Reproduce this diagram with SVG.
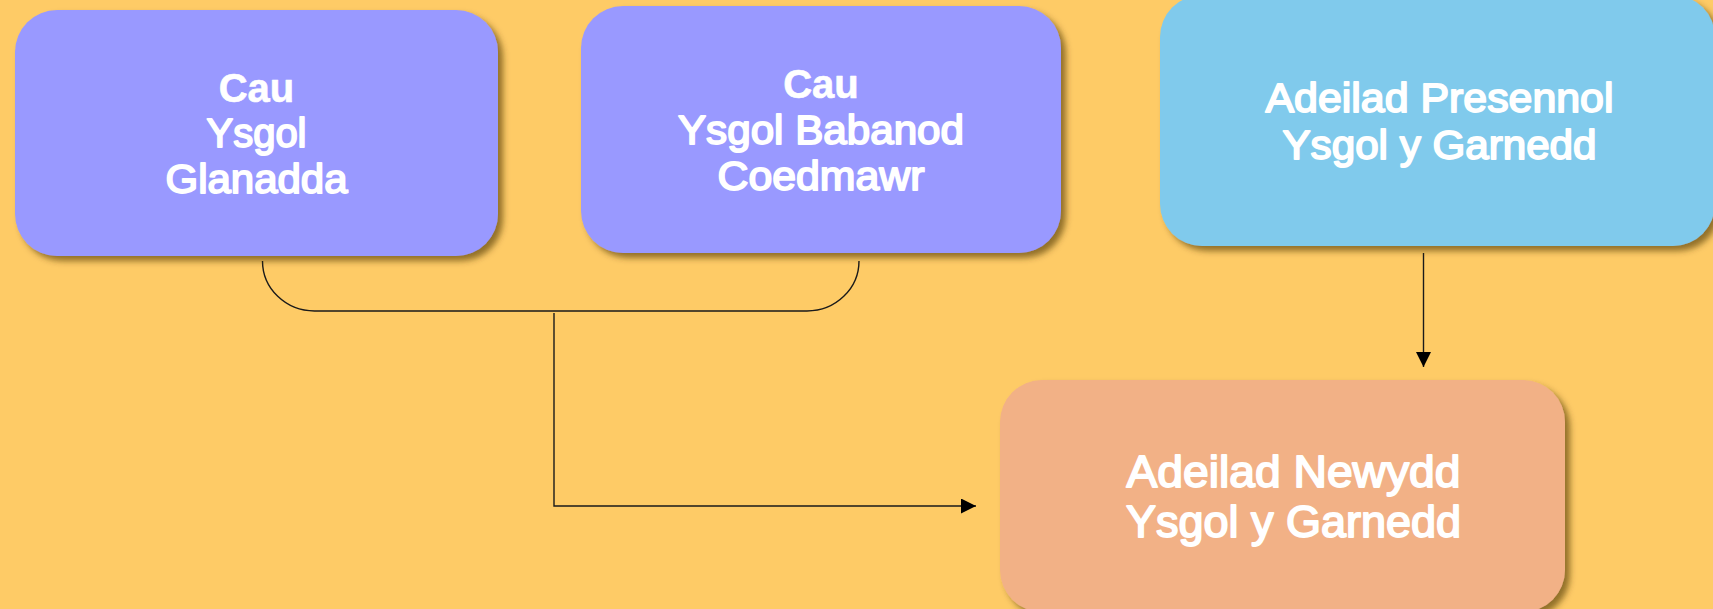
<svg xmlns="http://www.w3.org/2000/svg" width="1713" height="609" viewBox="0 0 1713 609">
<defs>
<style>
.box{filter:url(#sh);}
.t{font-family:"Liberation Sans",Arial,sans-serif;fill:#fff;text-anchor:middle;stroke:#fff;stroke-width:1.8;stroke-linejoin:round;}
.b{font-weight:bold;stroke-width:0.6;}
.c{fill:none;stroke:#1a1a1a;stroke-width:1.4;}
</style>
<filter id="sh" x="-10%" y="-10%" width="125%" height="130%">
<feDropShadow dx="5" dy="5" stdDeviation="3" flood-color="#4a3000" flood-opacity="0.6"/>
</filter>
<marker id="ah" markerWidth="16" markerHeight="16" refX="15" refY="7.5" orient="auto" markerUnits="userSpaceOnUse">
<path d="M0,0 L15,7.5 L0,15 Z" fill="#000"/>
</marker>
</defs>
<rect width="1713" height="609" fill="#FECB66"/>
<g id="connectors">
<path class="c" d="M262.5,261 A52,50 0 0 0 314.5,311 L807,311 A52,50 0 0 0 859,261"/>
<path class="c" d="M554,313 L554,506 L976,506" marker-end="url(#ah)"/>
<path class="c" d="M1423.5,253 L1423.5,367" marker-end="url(#ah)"/>
</g>
<g id="node-glanadda">
<rect class="box" x="15" y="10" width="483" height="246" rx="42" fill="#9999FF"/>
<text class="t b" x="256.5" y="102" font-size="40">Cau</text>
<text class="t" x="256.5" y="147" font-size="40" textLength="100" lengthAdjust="spacingAndGlyphs">Ysgol</text>
<text class="t" x="256.5" y="193" font-size="40" textLength="182" lengthAdjust="spacingAndGlyphs">Glanadda</text>
</g>
<g id="node-coedmawr">
<rect class="box" x="581" y="6" width="480" height="247" rx="42" fill="#9999FF"/>
<text class="t b" x="821" y="98" font-size="40">Cau</text>
<text class="t" x="821" y="144" font-size="40" textLength="286" lengthAdjust="spacingAndGlyphs">Ysgol Babanod</text>
<text class="t" x="821" y="190" font-size="40" textLength="207" lengthAdjust="spacingAndGlyphs">Coedmawr</text>
</g>
<g id="node-presennol">
<rect class="box" x="1160" y="-5" width="555" height="251" rx="42" fill="#80CAEC"/>
<text class="t" x="1439.5" y="112" font-size="41" textLength="348" lengthAdjust="spacingAndGlyphs">Adeilad Presennol</text>
<text class="t" x="1439.5" y="158.5" font-size="41" textLength="314" lengthAdjust="spacingAndGlyphs">Ysgol y Garnedd</text>
</g>
<g id="node-newydd">
<rect class="box" x="1000" y="380" width="565" height="232" rx="42" fill="#F2B186"/>
<text class="t" x="1293.5" y="487" font-size="44" textLength="334" lengthAdjust="spacingAndGlyphs">Adeilad Newydd</text>
<text class="t" x="1293.5" y="537" font-size="44" textLength="335" lengthAdjust="spacingAndGlyphs">Ysgol y Garnedd</text>
</g>
</svg>
